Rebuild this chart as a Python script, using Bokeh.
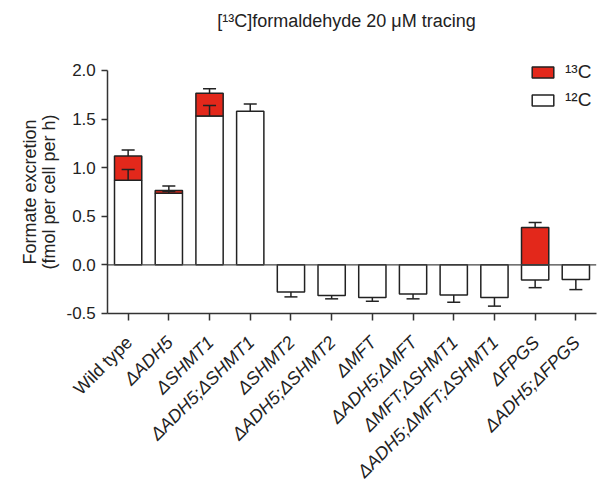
from bokeh.plotting import figure
from bokeh.models import (ColumnDataSource, LabelSet, Label, Legend, LegendItem,
                          FixedTicker, PrintfTickFormatter, Range1d, LinearAxis)
from bokeh.core.properties import value
from bokeh.embed import file_html
from bokeh.resources import INLINE

categories = ["Wild type", "ΔADH5", "ΔSHMT1", "ΔADH5;ΔSHMT1", "ΔSHMT2", "ΔADH5;ΔSHMT2",
              "ΔMFT", "ΔADH5;ΔMFT", "ΔMFT;ΔSHMT1", "ΔADH5;ΔMFT;ΔSHMT1", "ΔFPGS", "ΔADH5;ΔFPGS"]
c12 = [0.87, 0.735, 1.53, 1.58, -0.28, -0.315, -0.335, -0.30, -0.31, -0.335, -0.155, -0.15]
c12_err = [0.11, 0.02, 0.11, 0.075, 0.05, 0.035, 0.04, 0.05, 0.075, 0.09, 0.08, 0.105]
c13 = [0.25, 0.03, 0.235, 0, 0, 0, 0, 0, 0, 0, 0.385, 0]
c13_err = [0.06, 0.045, 0.045, 0, 0, 0, 0, 0, 0, 0, 0.05, 0]
yticks = [-0.5, 0.0, 0.5, 1.0, 1.5, 2.0]
ymin, ymax = -0.5, 2.0

FONT = "Liberation Sans"
RED = "#e3281b"
INK = "#222222"
AX = "#333333"
BW = 0.67
CAP = 0.16

n = len(categories)
xs = list(range(n))
xmin, xmax = -0.5, n - 0.5
bottom13 = [max(v, 0) for v in c12]
top13 = [b + v for b, v in zip(bottom13, c13)]

src12 = ColumnDataSource(dict(x=xs, top=c12, bottom=[0] * n))
src13 = ColumnDataSource(dict(x=[x for x, v in zip(xs, c13) if v > 0],
                              top=[t for t, v in zip(top13, c13) if v > 0],
                              bottom=[b for b, v in zip(bottom13, c13) if v > 0]))

ex, ey0, ey1 = [], [], []
for x, v, e in zip(xs, c12, c12_err):
    ex.append(x); ey0.append(v); ey1.append(v + e if v >= 0 else v - e)
for x, t, v, e in zip(xs, top13, c13, c13_err):
    if v > 0:
        ex.append(x); ey0.append(t); ey1.append(t + e)
err_src = ColumnDataSource(dict(x=ex, y0=ey0, y1=ey1,
                                xl=[x - CAP for x in ex], xr=[x + CAP for x in ex]))

# canvas = frame; axes are pinned at data locations inside it
p = figure(width=597, height=481, output_backend="svg", toolbar_location=None,
           x_range=Range1d(-3.136, 11.532), y_range=Range1d(-2.229, 2.719),
           x_axis_location=None, y_axis_location=None, min_border=0)
p.outline_line_color = None
p.grid.visible = False
p.background_fill_color = "white"

r12 = p.vbar(x="x", top="top", bottom="bottom", width=BW, source=src12,
             fill_color="white", line_color=INK, line_width=1.5)
r13 = p.vbar(x="x", top="top", bottom="bottom", width=BW, source=src13,
             fill_color=RED, line_color=INK, line_width=1.5)
p.segment(x0=[xmin], y0=[0], x1=[xmax], y1=[0], line_color="#444444", line_width=1.3)
p.segment(x0="x", y0="y0", x1="x", y1="y1", source=err_src, line_color=INK, line_width=1.5)
p.segment(x0="xl", y0="y1", x1="xr", y1="y1", source=err_src, line_color=INK, line_width=1.5)

yax = LinearAxis(fixed_location=xmin, bounds=(ymin, ymax),
                 ticker=FixedTicker(ticks=yticks),
                 formatter=PrintfTickFormatter(format="%.1f"))
xax = LinearAxis(fixed_location=ymin, bounds=(xmin, xmax), ticker=FixedTicker(ticks=xs),
                 major_label_overrides={i: "" for i in xs})
for ax in (xax, yax):
    ax.axis_line_color = AX
    ax.axis_line_width = 1.5
    ax.major_tick_line_color = AX
    ax.major_tick_line_width = 1.5
    ax.minor_tick_line_color = None
    ax.major_tick_in = 0
yax.major_tick_out = 6
yax.major_label_standoff = 6
yax.major_label_text_font = FONT
yax.major_label_text_font_size = "17px"
yax.major_label_text_color = INK
yax.axis_label = "Formate excretion\n(fmol per cell per h)"
yax.axis_label_text_font = FONT
yax.axis_label_text_font_size = "18px"
yax.axis_label_text_font_style = "normal"
yax.axis_label_text_color = INK
yax.axis_label_text_line_height = 0.95
yax.axis_label_standoff = 4
xax.major_tick_out = 7
p.add_layout(yax, "left")
p.add_layout(xax, "below")

# rotated category labels
is_wt = [c == "Wild type" for c in categories]
lab_norm = ColumnDataSource(dict(x=[x for x, w in zip(xs, is_wt) if w],
                                 y=[ymin] * sum(is_wt),
                                 t=[c for c, w in zip(categories, is_wt) if w]))
lab_it = ColumnDataSource(dict(x=[x for x, w in zip(xs, is_wt) if not w],
                               y=[ymin] * (n - sum(is_wt)),
                               t=[c for c, w in zip(categories, is_wt) if not w]))
for src, style in ((lab_norm, "normal"), (lab_it, "italic")):
    p.add_layout(LabelSet(x="x", y="y", text="t", source=src, angle=45, angle_units="deg",
                          x_offset=1, y_offset=-26, text_align="right", text_baseline="middle",
                          text_font=value(FONT), text_font_size=value("18px"),
                          text_font_style=value(style), text_color=INK))

p.add_layout(Label(x=346, y=461, x_units="screen", y_units="screen",
                   text="[¹³C]formaldehyde 20 μM tracing", text_align="center",
                   text_baseline="alphabetic", text_font=FONT, text_font_size="18px",
                   text_color=INK))

legend = Legend(items=[LegendItem(label="¹³C", renderers=[r13]),
                       LegendItem(label="¹²C", renderers=[r12])],
                location=(529, 370), glyph_width=27, glyph_height=14, label_standoff=9,
                spacing=6, padding=0, margin=0, border_line_alpha=0,
                background_fill_alpha=0, label_text_font=FONT, label_text_font_size="19px",
                label_text_color=INK, label_height=20)
p.add_layout(legend)

open("out.html", "w").write(file_html(p, INLINE))
